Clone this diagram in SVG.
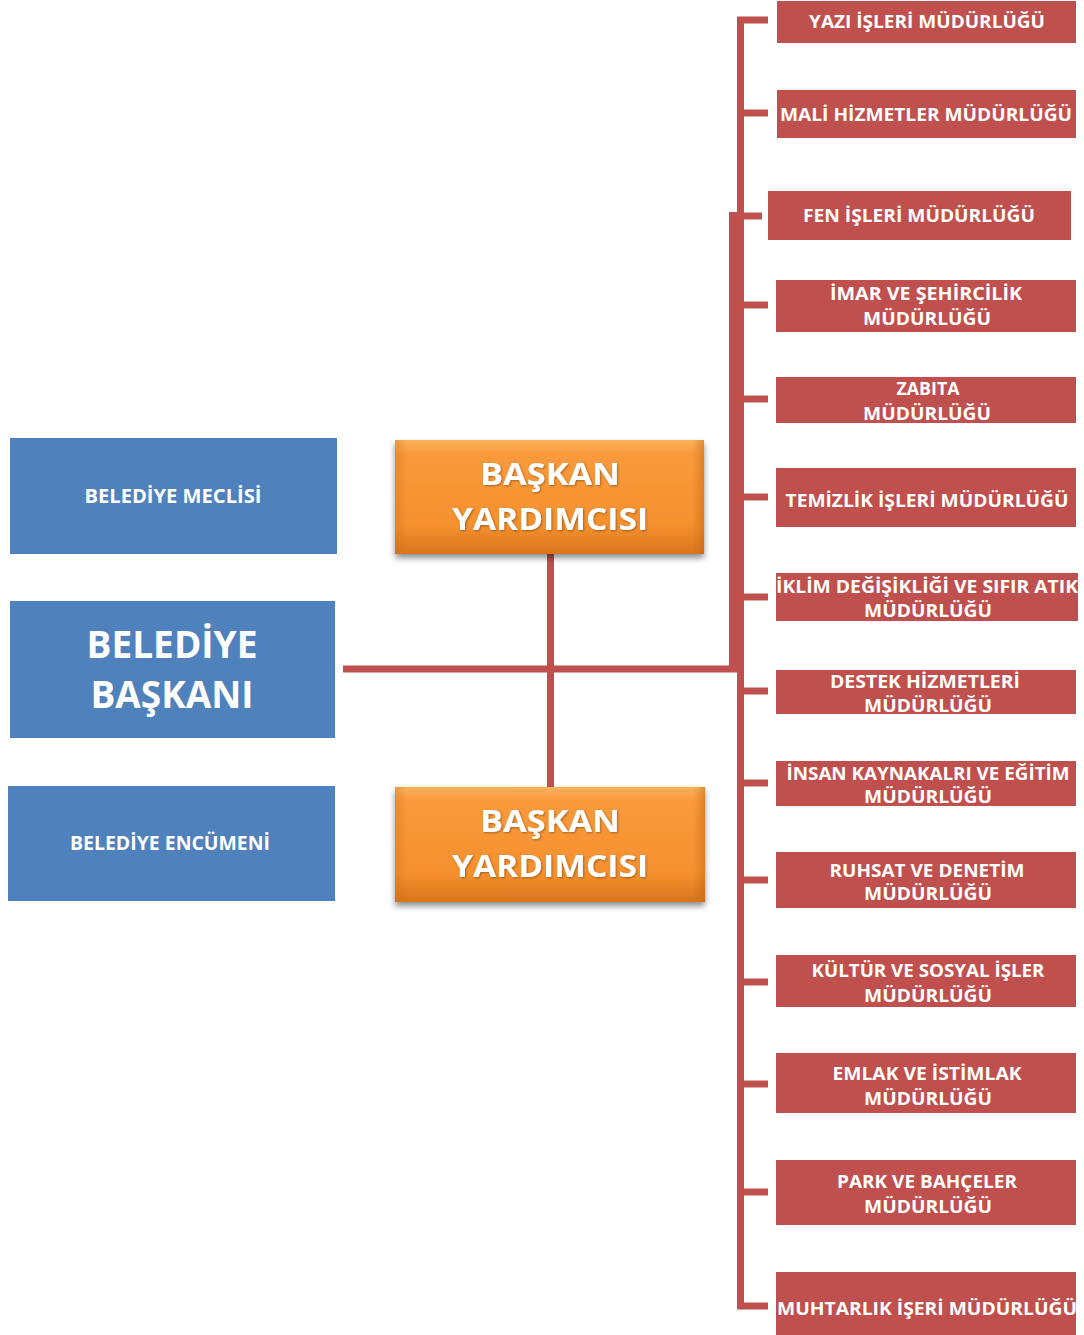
<svg xmlns="http://www.w3.org/2000/svg" width="1084" height="1335" viewBox="0 0 1084 1335">
<defs>
<linearGradient id="og" x1="0" y1="0" x2="0" y2="1">
<stop offset="0" stop-color="#FBB25E"/>
<stop offset="0.12" stop-color="#F99A3C"/>
<stop offset="0.75" stop-color="#F5902E"/>
<stop offset="1" stop-color="#D8751C"/>
</linearGradient>
<linearGradient id="oe" x1="0" y1="0" x2="1" y2="0">
<stop offset="0" stop-color="#C96A14" stop-opacity="0.35"/>
<stop offset="0.04" stop-color="#C96A14" stop-opacity="0"/>
<stop offset="0.96" stop-color="#C96A14" stop-opacity="0"/>
<stop offset="1" stop-color="#B8600F" stop-opacity="0.45"/>
</linearGradient>
<filter id="sh" x="-10%" y="-20%" width="120%" height="150%">
<feGaussianBlur in="SourceAlpha" stdDeviation="3"/>
<feOffset dx="0" dy="4" result="b"/>
<feComponentTransfer><feFuncA type="linear" slope="0.45"/></feComponentTransfer>
<feMerge><feMergeNode/><feMergeNode in="SourceGraphic"/></feMerge>
</filter>
<filter id="tg" x="-5%" y="-30%" width="110%" height="160%">
<feGaussianBlur in="SourceAlpha" stdDeviation="1"/>
<feOffset dx="0.5" dy="0.5"/>
<feComponentTransfer><feFuncA type="linear" slope="0.35"/></feComponentTransfer>
<feMerge><feMergeNode/><feMergeNode in="SourceGraphic"/></feMerge>
</filter>
</defs>
<style>
.red{fill:#C0504D}
.blue{fill:#4F81BD}
.t{font-family:"Open Sans","Liberation Sans",sans-serif;font-weight:bold;fill:#FFFFFF;text-anchor:middle}
.rt{font-size:17.5px}
.bt{font-size:19px}
.bb{font-size:37px}
.ot{font-size:31px}
.ln{stroke:#C0504D;fill:none}
</style>
<rect width="1084" height="1335" fill="#FFFFFF"/>

<g id="connectors">
<path class="ln" stroke-width="7" d="M768,20 H740.5 V1306 H768"/>
<line class="ln" stroke-width="8" x1="733" y1="212" x2="733" y2="672"/>
<line class="ln" stroke-width="7" x1="343" y1="669" x2="737" y2="669"/>
<line class="ln" stroke-width="7" x1="550.5" y1="553" x2="550.5" y2="787"/>
<g stroke-width="7" class="ln">
<line x1="740" y1="113" x2="768" y2="113"/>
<line x1="740" y1="216" x2="762" y2="216"/>
<line x1="740" y1="305" x2="768" y2="305"/>
<line x1="740" y1="399" x2="768" y2="399"/>
<line x1="740" y1="497" x2="768" y2="497"/>
<line x1="740" y1="597" x2="768" y2="597"/>
<line x1="740" y1="691" x2="768" y2="691"/>
<line x1="740" y1="783" x2="768" y2="783"/>
<line x1="740" y1="880" x2="768" y2="880"/>
<line x1="740" y1="982" x2="768" y2="982"/>
<line x1="740" y1="1084" x2="768" y2="1084"/>
<line x1="740" y1="1192" x2="768" y2="1192"/>
</g>
</g>

<g id="belediye-meclisi">
<rect class="blue" x="10" y="438" width="327" height="116"/>
<text class="t bt" x="173" y="503" textLength="177" lengthAdjust="spacingAndGlyphs">BELEDİYE MECLİSİ</text>
</g>
<g id="belediye-baskani">
<rect class="blue" x="10" y="601" width="325" height="137"/>
<text class="t bb" x="172" y="658" textLength="171" lengthAdjust="spacingAndGlyphs">BELEDİYE</text>
<text class="t bb" x="172" y="708" textLength="163" lengthAdjust="spacingAndGlyphs">BAŞKANI</text>
</g>
<g id="belediye-encumeni">
<rect class="blue" x="8" y="786" width="327" height="115"/>
<text class="t bt" x="170" y="850" textLength="200" lengthAdjust="spacingAndGlyphs">BELEDİYE ENCÜMENİ</text>
</g>

<g id="baskan-yardimcisi-1" filter="url(#sh)">
<rect x="395" y="440" width="309" height="114" fill="url(#og)"/>
<rect x="395" y="440" width="309" height="114" fill="url(#oe)"/>
<text class="t ot" x="550" y="485" textLength="140" lengthAdjust="spacingAndGlyphs" filter="url(#tg)">BAŞKAN</text>
<text class="t ot" x="550" y="530" textLength="196" lengthAdjust="spacingAndGlyphs" filter="url(#tg)">YARDIMCISI</text>
</g>
<g id="baskan-yardimcisi-2" filter="url(#sh)">
<rect x="395" y="787" width="310" height="115" fill="url(#og)"/>
<rect x="395" y="787" width="310" height="115" fill="url(#oe)"/>
<text class="t ot" x="550" y="832" textLength="140" lengthAdjust="spacingAndGlyphs" filter="url(#tg)">BAŞKAN</text>
<text class="t ot" x="550" y="877" textLength="196" lengthAdjust="spacingAndGlyphs" filter="url(#tg)">YARDIMCISI</text>
</g>

<g id="yazi-isleri">
<rect class="red" x="777" y="1" width="299" height="42"/>
<text class="t rt" x="927" y="28" textLength="236" lengthAdjust="spacingAndGlyphs">YAZI İŞLERİ MÜDÜRLÜĞÜ</text>
</g>
<g id="mali-hizmetler">
<rect class="red" x="777" y="90" width="299" height="48"/>
<text class="t rt" x="926" y="121" textLength="292" lengthAdjust="spacingAndGlyphs">MALİ HİZMETLER MÜDÜRLÜĞÜ</text>
</g>
<g id="fen-isleri">
<rect class="red" x="768" y="191" width="303" height="49"/>
<text class="t rt" x="919" y="222" textLength="232" lengthAdjust="spacingAndGlyphs">FEN İŞLERİ MÜDÜRLÜĞÜ</text>
</g>
<g id="imar-sehircilik">
<rect class="red" x="776" y="280" width="300" height="52"/>
<text class="t rt" x="926" y="300" textLength="192" lengthAdjust="spacingAndGlyphs">İMAR VE ŞEHİRCİLİK</text>
<text class="t rt" x="927" y="325" textLength="128" lengthAdjust="spacingAndGlyphs">MÜDÜRLÜĞÜ</text>
</g>
<g id="zabita">
<rect class="red" x="776" y="377" width="300" height="46"/>
<text class="t rt" x="928" y="395" textLength="63" lengthAdjust="spacingAndGlyphs">ZABITA</text>
<text class="t rt" x="927" y="420" textLength="128" lengthAdjust="spacingAndGlyphs">MÜDÜRLÜĞÜ</text>
</g>
<g id="temizlik-isleri">
<rect class="red" x="776" y="468" width="300" height="59"/>
<text class="t rt" x="927" y="507" textLength="283" lengthAdjust="spacingAndGlyphs">TEMİZLİK İŞLERİ MÜDÜRLÜĞÜ</text>
</g>
<g id="iklim-degisikligi">
<rect class="red" x="776" y="573" width="302" height="48"/>
<text class="t rt" x="927" y="593" textLength="302" lengthAdjust="spacingAndGlyphs">İKLİM DEĞİŞİKLİĞİ VE SIFIR ATIK</text>
<text class="t rt" x="928" y="617" textLength="128" lengthAdjust="spacingAndGlyphs">MÜDÜRLÜĞÜ</text>
</g>
<g id="destek-hizmetleri">
<rect class="red" x="776" y="670" width="300" height="44"/>
<text class="t rt" x="925" y="688" textLength="190" lengthAdjust="spacingAndGlyphs">DESTEK HİZMETLERİ</text>
<text class="t rt" x="928" y="712" textLength="128" lengthAdjust="spacingAndGlyphs">MÜDÜRLÜĞÜ</text>
</g>
<g id="insan-kaynaklari">
<rect class="red" x="776" y="761" width="300" height="45"/>
<text class="t rt" x="928" y="780" textLength="283" lengthAdjust="spacingAndGlyphs">İNSAN KAYNAKALRI VE EĞİTİM</text>
<text class="t rt" x="928" y="803" textLength="128" lengthAdjust="spacingAndGlyphs">MÜDÜRLÜĞÜ</text>
</g>
<g id="ruhsat-denetim">
<rect class="red" x="776" y="852" width="300" height="56"/>
<text class="t rt" x="927" y="877" textLength="195" lengthAdjust="spacingAndGlyphs">RUHSAT VE DENETİM</text>
<text class="t rt" x="928" y="900" textLength="128" lengthAdjust="spacingAndGlyphs">MÜDÜRLÜĞÜ</text>
</g>
<g id="kultur-sosyal">
<rect class="red" x="776" y="955" width="300" height="52"/>
<text class="t rt" x="928" y="977" textLength="233" lengthAdjust="spacingAndGlyphs">KÜLTÜR VE SOSYAL İŞLER</text>
<text class="t rt" x="928" y="1002" textLength="128" lengthAdjust="spacingAndGlyphs">MÜDÜRLÜĞÜ</text>
</g>
<g id="emlak-istimlak">
<rect class="red" x="776" y="1053" width="300" height="60"/>
<text class="t rt" x="927" y="1080" textLength="189" lengthAdjust="spacingAndGlyphs">EMLAK VE İSTİMLAK</text>
<text class="t rt" x="928" y="1105" textLength="128" lengthAdjust="spacingAndGlyphs">MÜDÜRLÜĞÜ</text>
</g>
<g id="park-bahceler">
<rect class="red" x="776" y="1160" width="300" height="65"/>
<text class="t rt" x="927" y="1188" textLength="180" lengthAdjust="spacingAndGlyphs">PARK VE BAHÇELER</text>
<text class="t rt" x="928" y="1213" textLength="128" lengthAdjust="spacingAndGlyphs">MÜDÜRLÜĞÜ</text>
</g>
<g id="muhtarlik-isleri">
<rect class="red" x="776" y="1272" width="300" height="63"/>
<text class="t rt" x="927" y="1315" textLength="300" lengthAdjust="spacingAndGlyphs">MUHTARLIK İŞERİ MÜDÜRLÜĞÜ</text>
</g>
</svg>
